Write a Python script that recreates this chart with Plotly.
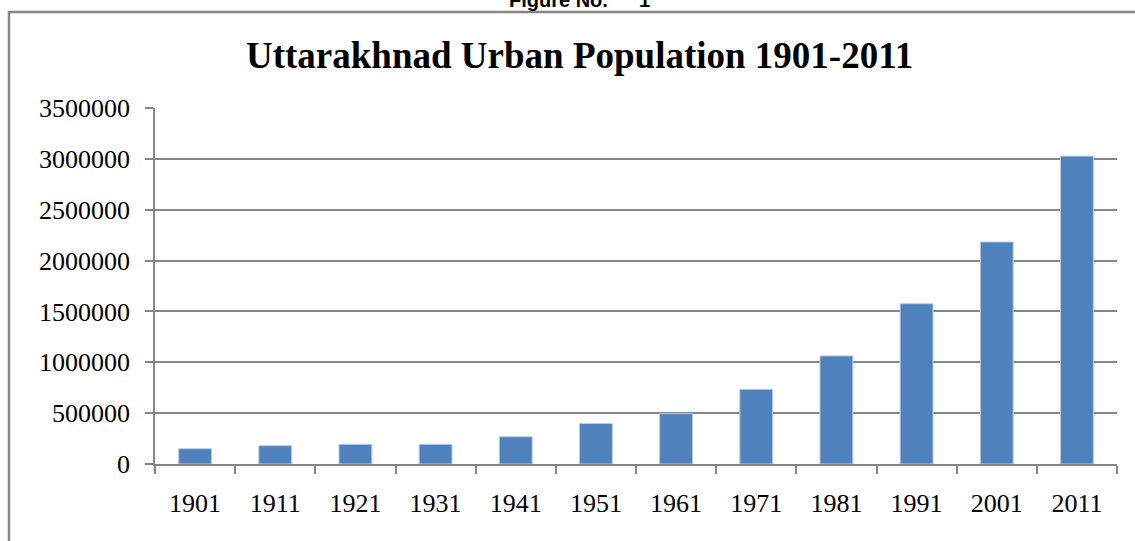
import plotly.graph_objects as go

years = ["1901", "1911", "1921", "1931", "1941", "1951", "1961", "1971", "1981", "1991", "2001", "2011"]
urban_population = [150000, 180000, 193000, 193000, 268000, 398000, 495000, 734000, 1063000, 1576000, 2183000, 3027000]
y_ticks = [0, 500000, 1000000, 1500000, 2000000, 2500000, 3000000, 3500000]

W, H = 1135, 541
L, R, T, B = 155, 18, 108, 77
pw = W - L - R
ph = H - T - B

def px_x(p):
    return (p - L) / pw

def px_y(p):
    return (H - B - p) / ph

serif = "Liberation Serif, Times New Roman, serif"
sans = "Liberation Sans, Arial, sans-serif"
grid = "#868686"

fig = go.Figure()
fig.add_trace(go.Bar(
    x=years, y=urban_population,
    marker=dict(color="#4F81BD", line=dict(color="#B9CDE5", width=1)),
    width=0.41,
))

fig.update_layout(
    width=W, height=H,
    margin=dict(l=L, r=R, t=T, b=B),
    paper_bgcolor="white", plot_bgcolor="white",
    showlegend=False,
    font=dict(family=serif, color="black"),
    xaxis=dict(
        type="category", showgrid=False, showline=True, linecolor=grid, linewidth=1.5,
        ticks="outside", tickson="boundaries", ticklen=8, tickcolor=grid, tickwidth=1.5,
        tickfont=dict(size=26, family=serif),
        ticklabelstandoff=15,
    ),
    yaxis=dict(
        range=[0, 3500000], tickvals=y_ticks, ticktext=[str(v) for v in y_ticks],
        showgrid=True, gridcolor=grid, gridwidth=1.5,
        showline=True, linecolor=grid, linewidth=1.5,
        ticks="outside", ticklen=8, tickcolor=grid, tickwidth=1.5,
        tickfont=dict(size=26, family=serif),
        ticklabelstandoff=10,
        zeroline=False,
    ),
)

fig.add_annotation(
    text="<b>Uttarakhnad Urban Population 1901-2011</b>",
    xref="paper", yref="paper", x=px_x(579), y=px_y(55),
    xanchor="center", yanchor="middle", showarrow=False,
    font=dict(size=37, family=serif, color="black"),
)
fig.add_annotation(
    text="<b>Figure No.</b>",
    xref="paper", yref="paper", x=px_x(507), y=px_y(0),
    xanchor="left", yanchor="middle", showarrow=False,
    font=dict(size=20, family=sans, color="black"),
)
fig.add_annotation(
    text="<b>1</b>",
    xref="paper", yref="paper", x=px_x(637), y=px_y(0),
    xanchor="left", yanchor="middle", showarrow=False,
    font=dict(size=20, family=sans, color="black"),
)
fig.add_shape(
    type="rect", xref="paper", yref="paper",
    x0=px_x(9), x1=px_x(1145), y0=px_y(551), y1=px_y(12),
    line=dict(color=grid, width=2.5), fillcolor="rgba(0,0,0,0)", layer="below",
)

fig.write_html(
    "out.html",
    config={"displayModeBar": False},
    post_script="document.body.style.margin='0';document.body.style.overflow='hidden';",
)
